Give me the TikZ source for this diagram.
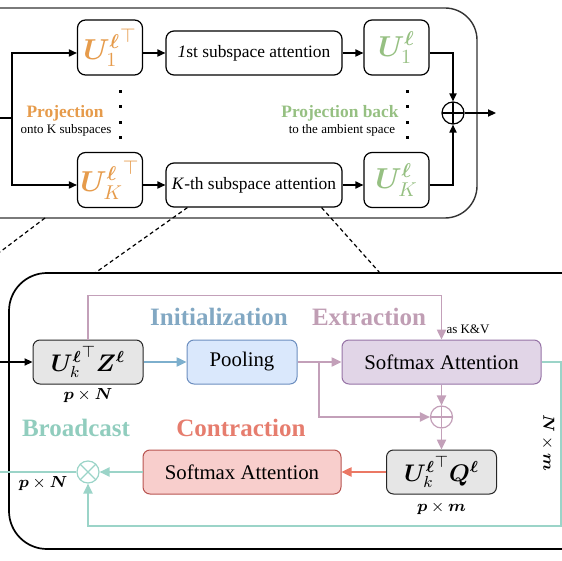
\documentclass[tikz,border=0pt]{standalone}
\usepackage{fontspec}
\setmainfont{Liberation Serif}
\usepackage{amsmath,amssymb,bm}
\usetikzlibrary{arrows.meta}

\definecolor{projorange}{RGB}{230,155,75}
\definecolor{backgreen}{RGB}{150,192,130}
\definecolor{initblue}{RGB}{130,168,195}
\definecolor{extrmauve}{RGB}{192,158,180}
\definecolor{contrred}{RGB}{230,125,110}
\definecolor{broadteal}{RGB}{145,205,190}
\definecolor{poolfill}{RGB}{218,232,252}
\definecolor{poolline}{RGB}{108,142,191}
\definecolor{attxfill}{RGB}{225,213,231}
\definecolor{attxline}{RGB}{150,115,166}
\definecolor{attcfill}{RGB}{248,206,204}
\definecolor{attcline}{RGB}{184,84,80}
\definecolor{boxgray}{RGB}{230,230,230}
\definecolor{arrblue}{RGB}{125,175,205}
\definecolor{arrmauve}{RGB}{195,160,185}
\definecolor{arrred}{RGB}{235,120,100}
\definecolor{arrteal}{RGB}{155,212,200}

\begin{document}
\begin{tikzpicture}[x=0.5pt,y=-0.5pt,
    box/.style={draw,rounded corners=4pt,line width=0.6pt,fill=white,inner sep=0pt},
    ubox/.style={box,minimum width=32.5pt,minimum height=27.5pt,font=\fontsize{14.4}{16}\selectfont},
    abox/.style={box,minimum width=88pt,minimum height=22pt,font=\fontsize{8.7}{10}\selectfont},
    gbox/.style={draw=black!85,fill=boxgray,rounded corners=3.5pt,line width=0.5pt,minimum width=55pt,minimum height=22pt,inner sep=0pt,font=\fontsize{12}{14}\selectfont},
    cbox/.style 2 args={draw=#1,fill=#2,rounded corners=3.5pt,line width=0.5pt,minimum height=22pt,inner sep=0pt,font=\fontsize{10.4}{12}\selectfont},
    sumnode/.style={circle,draw=#1,line width=0.6pt,minimum size=11pt,inner sep=0pt,
      path picture={\draw[#1,line width=0.6pt] (path picture bounding box.north) -- (path picture bounding box.south)
        (path picture bounding box.west) -- (path picture bounding box.east);}},
    prodnode/.style={circle,draw=#1,line width=0.6pt,minimum size=11pt,inner sep=0pt,
      path picture={\draw[#1,line width=0.6pt] (path picture bounding box.north west) -- (path picture bounding box.south east)
        (path picture bounding box.south west) -- (path picture bounding box.north east);}},
    arr/.style={-{Triangle[length=4pt,width=3.6pt]},line width=0.65pt},
    carr/.style={-{Triangle[length=5pt,width=4.6pt]},line width=0.9pt,draw=#1},
    tag/.style={font=\fontsize{12.5}{14}\selectfont\bfseries,text=#1},
    toptag/.style={font=\fontsize{8.7}{10}\selectfont\bfseries,text=#1},
    note/.style={font=\fontsize{6.5}{8}\selectfont},
    dimtext/.style={font=\fontsize{8}{10}\selectfont},
    zoomline/.style={dash pattern=on 2pt off 1.5pt,line width=0.6pt}]
    \useasboundingbox (0,0) rectangle (562,561);
    \clip (0,0) rectangle (562,561);
    \begin{scope}
      \draw[line width=0.7pt,black!80,rounded corners=16pt] (-30,8) -- (477,8) -- (477,218) -- (-30,218);
      \node[ubox,text=projorange] (u1t) at (110,47.5) {${\bm U_1^{\bm\ell}}^{\top}$};
      \node[abox] (att1) at (254,53) {\textit{1}st subspace attention};
      \node[ubox,text=backgreen] (u1) at (396.5,47.5) {$\bm U_1^{\bm\ell}$};
      \node[ubox,text=projorange] (ukt) at (110,180) {${\bm U_K^{\bm\ell}}^{\top}$};
      \node[abox] (attk) at (254,185) {\textit{K}-th subspace attention};
      \node[ubox,text=backgreen] (uk) at (396.5,180) {$\bm U_K^{\bm\ell}$};
      \node[sumnode=black] (sum1) at (453,113) {};
      \foreach \y in {92,107,123,138}{
        \fill (118.5,\y-1.5) rectangle ++(3,3);
        \fill (405.5,\y-1.5) rectangle ++(3,3);
      }
      \node[toptag=projorange] (proj) at (65,113) {Projection};
      \node[note] (onto) at (66,130) {onto K subspaces};
      \node[toptag=backgreen] (back) at (340,113) {Projection back};
      \node[note] (ambient) at (342,130) {to the ambient space};
      \coordinate (in1) at (0,118);
      \coordinate (split) at (12,118);
      \coordinate (out1) at (496,113);
      \draw[line width=0.65pt] (in1) -- (split);
      \draw[arr] (split) |- (att1.west -| u1t.west);
      \draw[arr] (split) |- (attk.west -| ukt.west);
      \draw[arr] (att1.west -| u1t.east) -- (att1.west);
      \draw[arr] (attk.west -| ukt.east) -- (attk.west);
      \draw[arr] (att1.east) -- (att1.east -| u1.west);
      \draw[arr] (attk.east) -- (attk.east -| uk.west);
      \draw[arr] (att1.east -| u1.east) -| (sum1.north);
      \draw[arr] (attk.east -| uk.east) -| (sum1.south);
      \draw[arr] (sum1.east) -- (out1);
    \end{scope}
    \begin{scope}
      \coordinate (topA) at (45,218);
      \coordinate (zoomA) at (0,252);
      \coordinate (zoomL) at (95,273);
      \coordinate (zoomR) at (380,273);
      \draw[zoomline] (topA) -- (zoomA);
      \draw[zoomline] ([xshift=11pt]attk.south west) -- (zoomL);
      \draw[zoomline] ([xshift=-10.5pt]attk.south east) -- (zoomR);
      \draw[line width=0.85pt,rounded corners=19pt] (600,273) -- (9,273) -- (9,549) -- (600,549);
    \end{scope}
    \begin{scope}
      \node[gbox] (uz) at (88,362) {${\bm U_k^{\bm\ell}}^{\top}\bm Z^{\bm\ell}$};
      \node[cbox={poolline}{poolfill},minimum width=55pt] (pool) at (242,362) {Pooling};
      \node[cbox={attxline}{attxfill},minimum width=99.5pt] (attx) at (441.5,362) {Softmax Attention};
      \node[sumnode=arrmauve] (sum2) at (441.5,417) {};
      \node[gbox] (uq) at (441.5,472) {${\bm U_k^{\bm\ell}}^{\top}\bm Q^{\bm\ell}$};
      \node[cbox={attcline}{attcfill},minimum width=99pt] (attc) at (242,472) {Softmax Attention};
      \node[prodnode=arrteal] (prod) at (88,472) {};
      \node[tag=initblue] (init) at (219,317) {Initialization};
      \node[tag=extrmauve] (extr) at (369,317) {Extraction};
      \node[tag=contrred] (contr) at (241,428) {Contraction};
      \node[tag=broadteal] (broad) at (76,428) {Broadcast};
      \node[note] (kv) at (468,329) {as K\&V};
      \node[dimtext] (dimz) at (88,396) {$\bm p\times\bm N$};
      \node[dimtext] (dimq) at (441.5,508) {$\bm p\times\bm m$};
      \node[dimtext] (dimo) at (43,484) {$\bm p\times\bm N$};
      \node[dimtext,rotate=-90] (dimx) at (548,443) {$\bm N\times\bm m$};
      \coordinate (in2) at (0,362);
      \coordinate (br) at (319,362);
      \coordinate (out2) at (0,472);
      \coordinate (loopR) at (561,526);
      \draw[arr] (in2) -- (uz.west);
      \draw[carr=arrblue] (uz.east) -- (pool.west);
      \draw[carr=arrmauve] (pool.east) -- (attx.west);
      \draw[carr=arrmauve] (br) |- (sum2.west);
      \draw[carr=arrmauve] (attx.south) -- (sum2.north);
      \draw[carr=arrmauve] (sum2.south) -- (uq.north);
      \draw[carr=arrmauve] (uz.north) -- ++(0,-44) -| (attx.north);
      \draw[carr=arrred] (uq.west) -- (attc.east);
      \draw[carr=arrteal] (attc.west) -- (prod.east);
      \draw[arrteal,line width=0.9pt] (prod.west) -- (out2);
      \draw[carr=arrteal] (attx.east) -| (loopR) -| (prod.south);
    \end{scope}
\end{tikzpicture}
\end{document}
